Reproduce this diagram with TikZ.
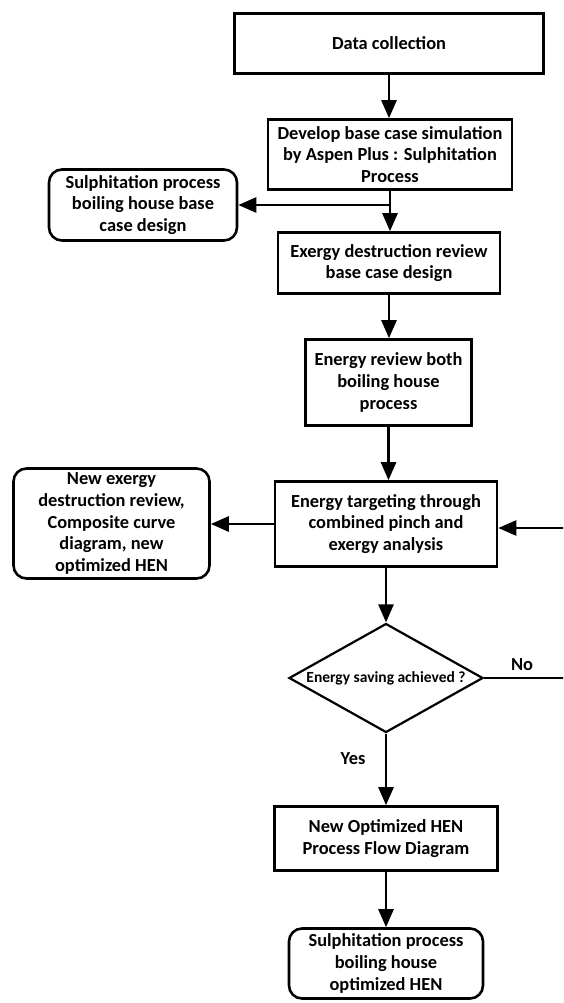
\documentclass[tikz,border=0pt]{standalone}
\usepackage{fontspec}
\setmainfont{Carlito}
\usetikzlibrary{arrows.meta,shapes.geometric}
\begin{document}
\begin{tikzpicture}[x=1pt,y=-1pt,
  txt/.style={font=\fontsize{18.4}{21.7}\selectfont\bfseries, align=center, inner sep=0pt},
  pbox/.style={txt, draw, line width=2.6pt, rectangle},
  rbox/.style={txt, draw, line width=2.6pt, rectangle, rounded corners=13pt},
  arr/.style={line width=2.6pt, -{Triangle[length=18pt,width=15pt]}},
  plain/.style={line width=2.2pt}
]
\useasboundingbox (0,0) rectangle (563,1003);
\clip (0,0) rectangle (563,1003);

\node[pbox, minimum width=309pt, minimum height=60pt] (dc) at (389,43.5) {Data collection};
\node[pbox, minimum width=244pt, minimum height=70pt] (dev) at (390,154.5) {Develop base case simulation\\by Aspen Plus : Sulphitation\\Process};
\node[rbox, minimum width=188pt, minimum height=71pt] (sb) at (143,205) {Sulphitation process\\boiling house base\\case design};
\node[pbox, minimum width=222pt, minimum height=61pt] (exd) at (389,263) {Exergy destruction review\\base case design};
\node[pbox, minimum width=166pt, minimum height=86pt] (er) at (388.5,382.5) {Energy review both\\boiling house\\process};
\node[pbox, minimum width=222pt, minimum height=85pt] (et) at (386,524) {Energy targeting through\\combined pinch and\\exergy analysis};
\node[rbox, minimum width=196pt, minimum height=110pt] (lb) at (111.5,523.5) {New exergy\\destruction review,\\Composite curve\\diagram, new\\optimized HEN};
\node[diamond, draw, line width=2.2pt, inner sep=0pt, aspect=1.77, minimum width=194pt, minimum height=109pt,
      font=\fontsize{15.5}{17}\selectfont\bfseries] (dia) at (386,678) {Energy saving achieved ?};
\node[pbox, minimum width=223pt, minimum height=64pt] (nh) at (386,838.5) {New Optimized HEN\\Process Flow Diagram};
\node[rbox, minimum width=194pt, minimum height=70pt] (fb) at (386,963.5) {Sulphitation process\\boiling house\\optimized HEN};

\node[txt] (no) at (522,665) {No};
\node[txt] (yes) at (353,759) {Yes};

\coordinate (j) at (389,205);
\coordinate (r1) at (580,678);
\coordinate (r2) at (580,528);

\draw[arr] (dc.south) -- (dc.south |- dev.north);
\draw[arr] (dev.south) -- (dev.south |- exd.north);
\draw[arr] (j) -- (sb.east |- j);
\draw[arr] (exd.south) -- (exd.south |- er.north);
\draw[arr] (er.south) -- (er.south |- et.north);
\draw[arr] (et.west) -- (lb.east |- et.west);
\draw[arr] (et.south) -- (dia.north);
\draw[arr] (dia.south) -- (nh.north);
\draw[arr] (nh.south) -- (fb.north);
\draw[plain] (dia.east) -- (r1);
\draw[arr] (r1) -- (r2) -- (et.east |- r2);
\end{tikzpicture}
\end{document}
